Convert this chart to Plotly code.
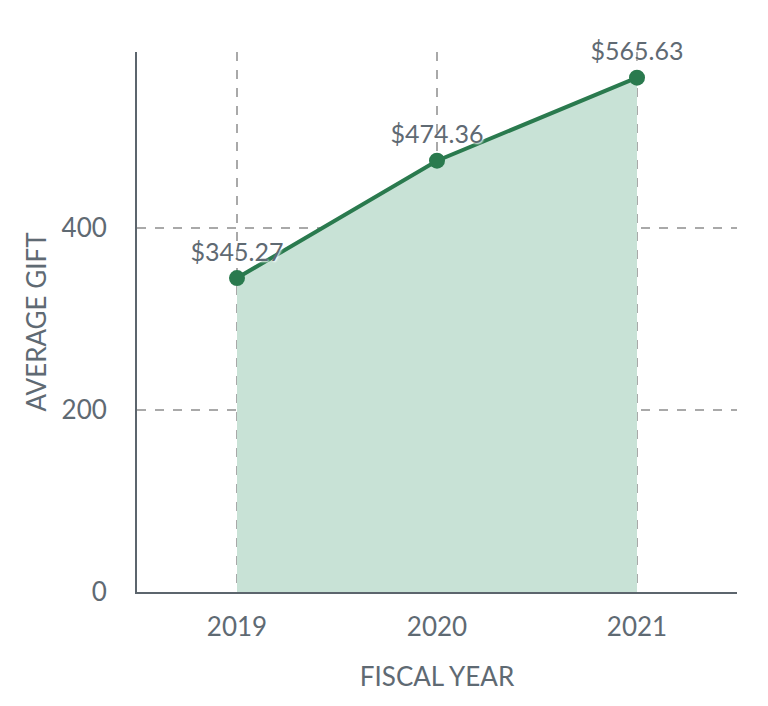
import plotly.graph_objects as go

years = ["2019", "2020", "2021"]
avg_gift = [345.27, 474.36, 565.63]
labels = ["$345.27", "$474.36", "$565.63"]

TEXT = "#5f6a73"
GREEN = "#2a7a4e"
FILL = "#c8e2d6"
GRID = "#a9a9a9"
AXIS = "#5c656d"
FONT = "Lato, 'Open Sans', sans-serif"

fig = go.Figure()
fig.add_trace(go.Scatter(
    x=years, y=avg_gift, mode="lines+markers+text",
    text=labels, textposition="top center",
    textfont=dict(size=25, color=TEXT, family=FONT, shadow="1px 1px 2px white"),
    line=dict(color=GREEN, width=4),
    marker=dict(color=GREEN, size=16),
    fill="tozeroy", fillcolor=FILL,
    cliponaxis=False, hoverinfo="skip",
))

fig.update_layout(
    width=768, height=706,
    margin=dict(l=129, r=39, t=44, b=122),
    paper_bgcolor="white", plot_bgcolor="white",
    showlegend=False,
    font=dict(family=FONT, color=TEXT, size=26),
)
fig.update_xaxes(
    type="category", range=[-0.5, 2.5], automargin=False,
    showline=True, linecolor=AXIS, linewidth=2,
    showgrid=True, gridcolor=GRID, griddash="dash", gridwidth=1.5,
    ticks="", ticklabelstandoff=11,
    tickfont=dict(size=26, color=TEXT),
    title=dict(text="FISCAL YEAR", font=dict(size=26, color=TEXT), standoff=27),
    zeroline=False, layer="above traces",
)
fig.update_yaxes(
    range=[0, 565.63 * 1.05], dtick=200, automargin=False,
    showline=True, linecolor=AXIS, linewidth=2,
    showgrid=True, gridcolor=GRID, griddash="dash", gridwidth=1.5,
    ticks="", ticklabelstandoff=23,
    tickfont=dict(size=26, color=TEXT),
    title=dict(text="AVERAGE GIFT", font=dict(size=26, color=TEXT), standoff=7),
    zeroline=False, layer="above traces",
)

fig.write_html("out.html")
